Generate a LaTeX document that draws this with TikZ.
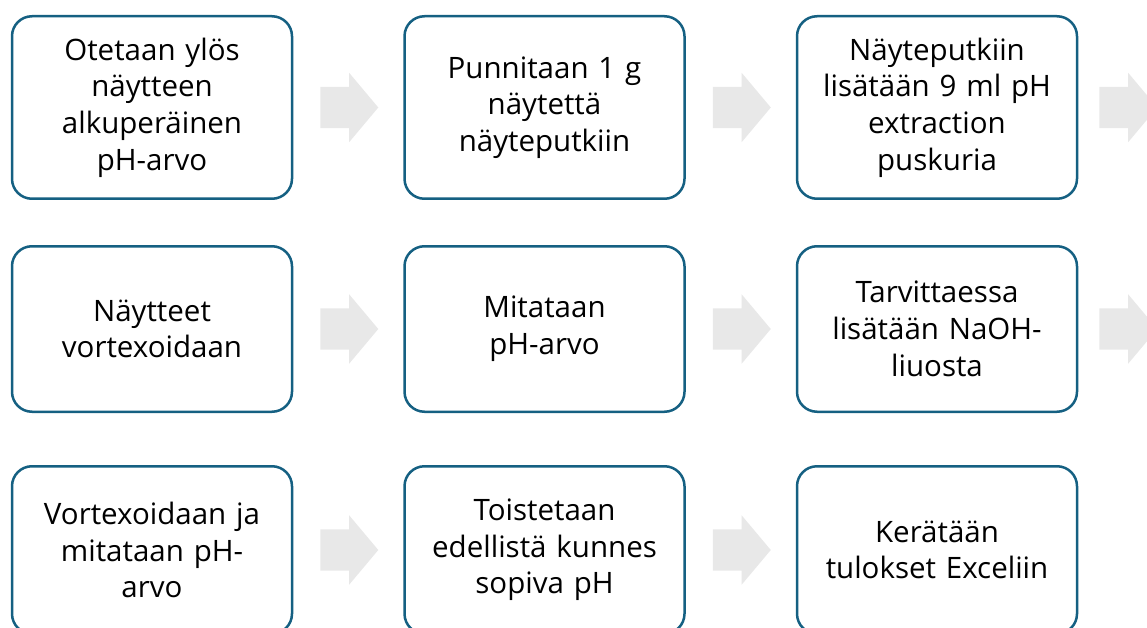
\documentclass[tikz,border=0pt]{standalone}
\usepackage{fontspec}
\setmainfont{Open Sans}
\usetikzlibrary{positioning,shapes.arrows}
\definecolor{stepblue}{HTML}{156082}
\definecolor{chevgray}{HTML}{E8E8E8}
\tikzset{stepbox/.style={draw=stepblue,line width=2.5pt,rounded corners=20pt,fill=white,
    minimum width=280pt,text width=264pt,align=center,
    font=\fontsize{29.5}{36.7}\selectfont},
    chev/.style={single arrow,fill=chevgray,single arrow head extend=14pt,
    single arrow tip angle=100,inner xsep=0pt,inner ysep=20.5pt,
    minimum height=58pt,outer sep=0pt},
    node distance=45pt and 110pt}

\begin{document}
\begin{tikzpicture}
\path[use as bounding box,fill=white] (0,0) rectangle (1147pt,-628pt);
\clip (0,0) rectangle (1147pt,-628pt);
% first row
\node[stepbox,minimum height=182.5pt] (b1) at (152pt,-107.5pt)
    {Otetaan ylös\\näytteen\\alkuperäinen\\pH-arvo};
\node[stepbox,minimum height=182.5pt,right=of b1] (b2)
    {Punnitaan 1 g\\näytettä\\näyteputkiin};
\node[stepbox,minimum height=182.5pt,right=of b2] (b3)
    {Näyteputkiin\\lisätään 9 ml pH\\extraction\\puskuria};
% second row
\node[stepbox,minimum height=165.5pt,below=of b1] (b4)
    {Näytteet\\vortexoidaan};
\node[stepbox,minimum height=165.5pt,right=of b4] (b5)
    {Mitataan\\pH-arvo};
\node[stepbox,minimum height=165.5pt,right=of b5] (b6)
    {Tarvittaessa\\lisätään NaOH-\\liuosta};
% third row
\node[stepbox,minimum height=167.5pt,below=52pt of b4] (b7)
    {Vortexoidaan ja\\mitataan pH-\\arvo};
\node[stepbox,minimum height=167.5pt,right=of b7] (b8)
    {Toistetaan\\edellistä kunnes\\sopiva pH};
\node[stepbox,minimum height=167.5pt,right=of b8] (b9)
    {Kerätään\\tulokset Exceliin};
% arrows
\node[chev,right=27pt of b1] (a12) {};
\node[chev,right=27pt of b2] (a23) {};
\node[chev,right=21pt of b3] (a3) {};
\node[chev,right=27pt of b4] (a45) {};
\node[chev,right=27pt of b5] (a56) {};
\node[chev,right=21pt of b6] (a6) {};
\node[chev,right=27pt of b7] (a78) {};
\node[chev,right=27pt of b8] (a89) {};
\end{tikzpicture}
\end{document}
